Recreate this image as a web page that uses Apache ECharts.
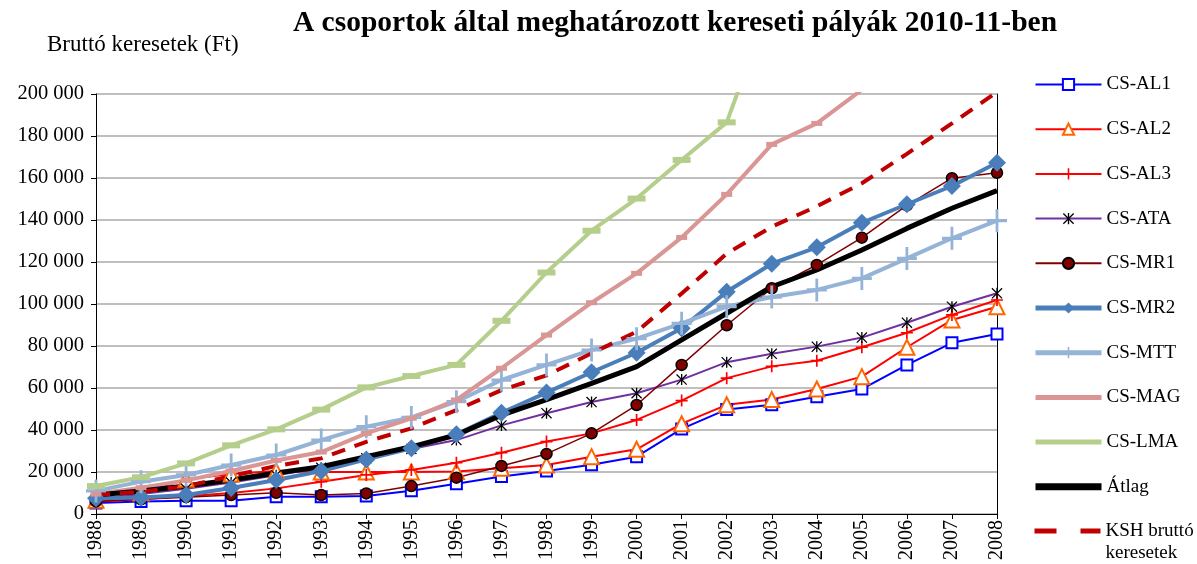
<!DOCTYPE html>
<html>
<head>
<meta charset="utf-8">
<script src="https://cdn.jsdelivr.net/npm/echarts@6/dist/echarts.min.js"></script>
<style>html,body{margin:0;padding:0;background:#fff}#c{width:1197px;height:564px}</style>
</head>
<body>
<div id="c"></div>
<script>
var years = ['1988','1989','1990','1991','1992','1993','1994','1995','1996','1997','1998','1999','2000','2001','2002','2003','2004','2005','2006','2007','2008'];
var yTicks = [0, 20000, 40000, 60000, 80000, 100000, 120000, 140000, 160000, 180000, 200000];
var csAL1 = [5200, 5900, 6300, 6300, 8200, 8200, 8600, 11100, 14400, 17900, 20500, 23500, 27300, 40500, 49800, 52000, 55800, 59500, 71000, 81500, 85700];
var csAL2 = [6500, 10000, 16500, 19000, 20500, 20000, 20000, 20000, 20200, 21800, 23300, 27300, 30800, 43000, 52000, 54500, 59500, 65400, 79400, 92400, 98700];
var csAL3 = [6000, 7000, 8500, 10000, 12200, 15400, 18600, 21000, 24400, 29200, 34500, 38400, 44800, 54000, 64700, 70300, 73000, 79400, 86300, 94800, 101900];
var csATA = [7000, 9500, 12000, 15000, 18500, 22000, 26500, 31000, 35200, 42200, 48000, 53300, 57500, 64000, 72300, 76300, 79700, 84000, 91100, 98700, 105100];
var csMR1 = [6000, 7000, 8000, 9000, 10100, 9000, 9800, 13300, 17300, 22900, 28600, 38400, 51900, 71000, 89900, 107500, 118600, 131600, 147000, 159900, 162500];
var csMR2 = [7500, 7800, 9000, 12400, 16200, 20500, 26000, 31300, 38000, 48200, 57800, 67500, 76800, 88500, 105800, 119200, 127000, 138700, 147500, 156200, 167300];
var csMTT = [11000, 15400, 18600, 23300, 28100, 35200, 41600, 46000, 53500, 63800, 71000, 78100, 83500, 90800, 98700, 103300, 106700, 112200, 121700, 131300, 139700];
var csMAG = [9500, 12500, 16000, 20500, 25500, 29500, 38400, 45600, 54300, 69400, 85200, 100600, 114600, 131700, 152200, 176000, 186000, 202000, null, null, null];
var csLMA = [13300, 17500, 24100, 32700, 40300, 49700, 60300, 65700, 71000, 92000, 115000, 134900, 150200, 168600, 186500, 245000, null, null, null, null, null];
var atlag = [9000, 11000, 13300, 16200, 19500, 22500, 27300, 32000, 37600, 47100, 54500, 62200, 70200, 82900, 95600, 108200, 116200, 125700, 136000, 145600, 154000];
var ksh = [9000, 10600, 13300, 18000, 22900, 26500, 34400, 40800, 49500, 59000, 66000, 76500, 86800, 105000, 124000, 136800, 146500, 157500, 171500, 186000, 201000];

var SERIF = "'Liberation Serif', 'Times New Roman', serif";
var PLUS = 'path://M0,4.3H10V5.7H0Z M4.3,0H5.7V10H4.3Z';
var STAR = 'path://M4.4,0H5.6V10H4.4Z M0,0.8L0.8,0L10,9.2L9.2,10Z M0.8,10L0,9.2L9.2,0L10,0.8Z';

function fmt(v){ return String(v).replace(/\B(?=(\d{3})+(?!\d))/g, ' '); }

function ser(name, data, o) {
  return {
    name: name, type: 'line', data: data, showAllSymbol: true,
    symbol: o.symbol || 'none', symbolSize: o.size || 8,
    lineStyle: { color: o.line, width: o.width, type: o.type || 'solid', cap: 'butt' },
    itemStyle: o.item || { color: o.line },
    emphasis: { disabled: true }, animation: false, connectNulls: false
  };
}

function li(name, w, hideSym, dash) {
  var d = { name: name, lineStyle: { width: w } };
  if (dash) d.lineStyle.type = dash;
  if (hideSym) d.itemStyle = { opacity: 0 };
  return d;
}

var legendBase = {
  orient: 'vertical', left: 1032, padding: 0, height: 500,
  itemWidth: 66, itemHeight: 14, itemGap: 25.7,
  textStyle: { fontFamily: SERIF, fontSize: 19, color: '#000' },
  selectedMode: false
};

var chart = echarts.init(document.getElementById('c'), null, { renderer: 'canvas' });
chart.setOption({
  backgroundColor: '#fff',
  animation: false,
  title: [
    { text: 'A csoportok által meghatározott kereseti pályák 2010-11-ben', left: 675, textAlign: 'center', top: 8, padding: 0,
      textStyle: { fontFamily: SERIF, fontSize: 29.5, fontWeight: 'bold', color: '#000' } },
    { text: 'Bruttó keresetek (Ft)', left: 47, top: 33, padding: 0,
      textStyle: { fontFamily: SERIF, fontSize: 23, fontWeight: 'normal', color: '#000' } }
  ],
  legend: [
    Object.assign({}, legendBase, {
      top: 75,
      data: [li('CS-AL1', 2), li('CS-AL2', 2), li('CS-AL3', 2), li('CS-ATA', 2), li('CS-MR1', 2),
        li('CS-MR2', 5), li('CS-MTT', 5), li('CS-MAG', 5, true), li('CS-LMA', 5, true), li('Átlag', 7, true)]
    }),
    Object.assign({}, legendBase, {
      top: 498,
      textStyle: { fontFamily: SERIF, fontSize: 19, color: '#000', lineHeight: 22 },
      data: [li('KSH bruttó keresetek', 5, true, [22, 24])],
      formatter: function () { return '\nKSH bruttó\nkeresetek'; }
    })
  ],
  grid: { left: 96, right: 200, top: 94, bottom: 50, containLabel: false },
  xAxis: [{
    type: 'category', data: years, boundaryGap: false,
    axisLine: { lineStyle: { color: '#000', width: 1 } },
    axisTick: { show: true, length: 5, lineStyle: { color: '#000' } },
    axisLabel: { rotate: 90, fontFamily: SERIF, fontSize: 20, color: '#000', margin: 6, interval: 0 },
    splitLine: { show: false }
  }, {
    type: 'category', data: years, boundaryGap: false, position: 'top',
    axisLine: { lineStyle: { color: '#000', width: 1 } }, axisTick: { show: false }, axisLabel: { show: false }
  }],
  yAxis: [{
    type: 'value', min: yTicks[0], max: yTicks[yTicks.length - 1], interval: yTicks[1] - yTicks[0],
    axisLine: { show: true, lineStyle: { color: '#000', width: 1 } },
    axisTick: { show: true, length: 5, lineStyle: { color: '#000' } },
    axisLabel: { formatter: fmt, fontFamily: SERIF, fontSize: 20.5, color: '#000', margin: 12 },
    splitLine: { show: true, lineStyle: { color: '#BFBFBF', width: 2 } }
  }, {
    type: 'value', min: yTicks[0], max: yTicks[yTicks.length - 1], position: 'right',
    axisLine: { show: true, lineStyle: { color: '#000', width: 1 } }, axisTick: { show: false },
    axisLabel: { show: false }, splitLine: { show: false }
  }],
  series: [
    ser('CS-AL1', csAL1, { line: '#0000FF', width: 2, symbol: 'emptyRect', size: 11 }),
    ser('CS-AL2', csAL2, { line: '#FF0000', width: 2, symbol: 'emptyTriangle', size: 15, item: { color: '#FF6600' } }),
    ser('CS-AL3', csAL3, { line: '#FF0000', width: 2, symbol: PLUS, size: 12 }),
    ser('CS-ATA', csATA, { line: '#7030A0', width: 2, symbol: STAR, size: 11, item: { color: '#000' } }),
    ser('CS-MR1', csMR1, { line: '#800000', width: 1.5, symbol: 'circle', size: 11, item: { color: '#800000', borderColor: '#000', borderWidth: 1.5 } }),
    ser('CS-MR2', csMR2, { line: '#4A7EBB', width: 4, symbol: 'diamond', size: 18 }),
    ser('CS-MTT', csMTT, { line: '#95B3D7', width: 4, symbol: PLUS, size: [20, 23] }),
    ser('CS-MAG', csMAG, { line: '#D99694', width: 4, symbol: 'rect', size: [11, 5] }),
    ser('CS-LMA', csLMA, { line: '#B5CE8C', width: 4, symbol: 'rect', size: [18, 6] }),
    ser('Átlag', atlag, { line: '#000000', width: 5 }),
    ser('KSH bruttó keresetek', ksh, { line: '#C00000', width: 4, type: [14, 10] })
  ]
});
</script>
</body>
</html>
